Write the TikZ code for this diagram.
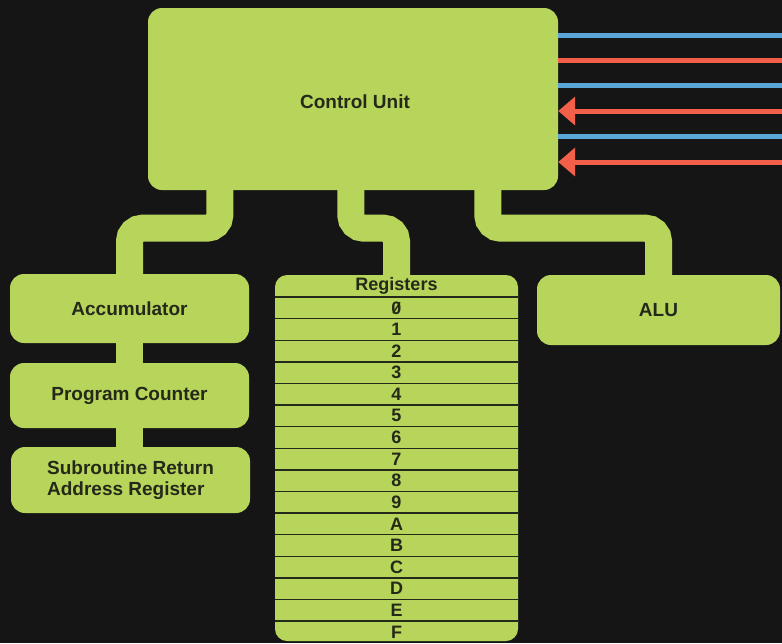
\documentclass[tikz,border=0pt]{standalone}
\usepackage{fontspec}
\setmainfont{Liberation Sans}
\usetikzlibrary{arrows.meta,calc}
\definecolor{bg}{HTML}{151515}
\definecolor{lime}{HTML}{B6D55A}
\definecolor{ink}{HTML}{25291A}
\definecolor{wire}{HTML}{5AA5D8}
\definecolor{hot}{HTML}{F2604A}
\pgfdeclarelayer{bottom}
\pgfdeclarelayer{background}
\pgfsetlayers{bottom,background,main}
\begin{document}
\begin{tikzpicture}[x=1pt,y=-1pt,
 box/.style={fill=lime, rounded corners=14pt, inner sep=0pt, text=ink,
   font=\bfseries\fontsize{19}{21.5}\selectfont, align=center},
 conn/.style={draw=lime, line width=27pt, rounded corners=13pt},
 bluewire/.style={draw=wire, line width=5pt},
 redwire/.style={draw=hot, line width=5pt},
 arrowwire/.style={redwire, -{Triangle[length=17pt,width=28pt]}},
 divider/.style={draw=ink, line width=1.4pt},
 regtext/.style={text=ink, font=\bfseries\fontsize{18}{18}\selectfont, inner sep=0pt}]
\begin{pgfonlayer}{bottom}
\fill[bg] (0,0) rectangle (782,643);
\end{pgfonlayer}
\useasboundingbox (0,0) rectangle (782,643);

% boxes
\node[box, minimum width=410pt, minimum height=182pt] (cu) at (353,99) {};
\node[box, fill=none] (cut) at (355,102) {Control Unit};
\node[box, minimum width=239pt, minimum height=69pt] (acc) at (129.5,308.5) {Accumulator};
\node[box, minimum width=239pt, minimum height=65pt] (pc) at (129.5,395.5) {Program Counter};
\node[box, minimum width=239pt, minimum height=66pt, align=left] (sr) at (130.5,480) {Subroutine Return\\Address Register};
\node[box, minimum width=243pt, minimum height=70pt] (alu) at (658.5,310) {ALU};
\node[box, rounded corners=12pt, minimum width=243pt, minimum height=366pt] (reg) at (396.5,458) {};

% registers table
\node[regtext] (regt) at (396.5,286) {Registers};
\foreach \k in {0,...,15}{
  \draw[divider] (275,{297+\k*21.6}) -- (518,{297+\k*21.6});
}
\foreach \lab [count=\i from 0] in {0,1,2,3,4,5,6,7,8,9,A,B,C,D,E,F}{
  \node[regtext] (r\i) at (396.5,{297+(\i+0.5)*21.6}) {\lab};
}
\draw[ink, line width=1.4pt] ([shift={(-3.5,5.5)}]r0.center) -- ([shift={(3.5,-5.5)}]r0.center);

% connectors
\begin{pgfonlayer}{background}
\draw[conn] ([xshift=72pt,yshift=4pt]cu.south west) -- ++(0,42) -| (acc.north);
\draw[conn] ([xshift=203pt,yshift=4pt]cu.south west) -- ++(0,42) -| (reg.north);
\draw[conn] ([xshift=340pt,yshift=4pt]cu.south west) -- ++(0,42) -| (alu.north);
\draw[conn] (acc.south) -- (pc.north);
\draw[conn] (pc.south) -- (sr.north -| pc.south);
\end{pgfonlayer}

% wires
\coordinate (w1) at (782,35);
\coordinate (w2) at (782,60);
\coordinate (w3) at (782,85);
\coordinate (w4) at (782,111);
\coordinate (w5) at (782,136);
\coordinate (w6) at (782,162);
\draw[bluewire] (w1) -- (cu.east |- w1);
\draw[redwire] (w2) -- (cu.east |- w2);
\draw[bluewire] (w3) -- (cu.east |- w3);
\draw[arrowwire] (w4) -- (cu.east |- w4);
\draw[bluewire] (w5) -- (cu.east |- w5);
\draw[arrowwire] (w6) -- (cu.east |- w6);
\end{tikzpicture}
\end{document}
